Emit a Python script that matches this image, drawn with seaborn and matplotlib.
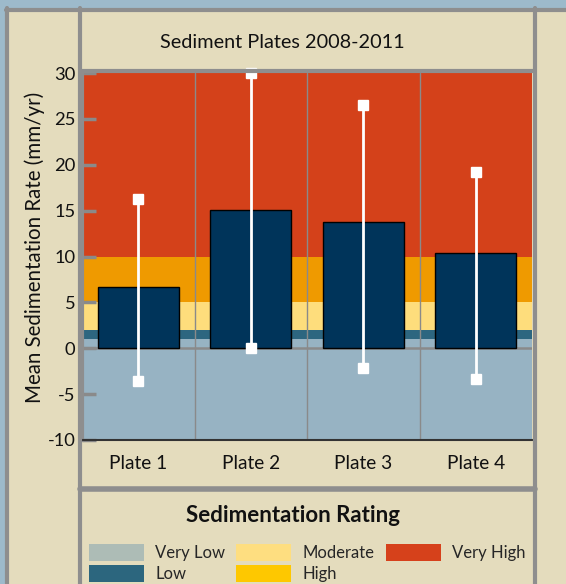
import matplotlib.pyplot as plt
import seaborn as sns
from matplotlib.patches import Rectangle, Patch
from matplotlib.lines import Line2D

# data
plates = ["Plate 1", "Plate 2", "Plate 3", "Plate 4"]
mean_rate = [6.7, 15.1, 13.8, 10.4]
err_low = [-3.6, 0.0, -2.2, -3.4]
err_high = [16.3, 30.0, 26.5, 19.2]

# rating bands drawn behind the bars
band_lo = [-10, 1, 2, 5, 10]
band_hi = [1, 2, 5, 10, 30]
band_colors = ["#97b3c3", "#2d6680", "#fedd7c", "#ef9a00", "#d4411a"]

# legend
rating_names = ["Very Low", "Low", "Moderate", "High", "Very High"]
rating_colors = ["#adbcb6", "#2c667e", "#fede80", "#fec800", "#d6411b"]

W, H = 566, 584
BEIGE = "#e4dcbd"
GRAY = "#8e8e8e"

sns.set_theme(style="white")
plt.rcParams["font.family"] = ["Lato", "DejaVu Sans"]
plt.rcParams["axes.unicode_minus"] = False


def fx(x):
    return x / W


def fy(y):
    return 1 - y / H


fig = plt.figure(figsize=(W / 100, H / 100), dpi=100)
fig.patch.set_facecolor("#9dbacb")

# panels
fig.add_artist(Rectangle((fx(6), 0), 1, fy(9), facecolor=BEIGE,
                         edgecolor="none", transform=fig.transFigure, zorder=0))
for x in [6.5, 80, 535]:
    fig.add_artist(Line2D([fx(x), fx(x)], [fy(8), 0], color=GRAY, lw=3, transform=fig.transFigure, zorder=0.5))
fig.add_artist(Line2D([fx(6), 1], [fy(9.5), fy(9.5)], color=GRAY, lw=3, transform=fig.transFigure, zorder=0.5))
fig.add_artist(Line2D([fx(80), fx(535)], [fy(71), fy(71)], color=GRAY, lw=3, transform=fig.transFigure, zorder=0.5))
fig.add_artist(Line2D([fx(80), fx(535)], [fy(489), fy(489)], color=GRAY, lw=4, transform=fig.transFigure, zorder=0.5))

fig.text(fx(282), fy(43), "Sediment Plates 2008-2011", ha="center", va="center", fontsize=14.3, color="#111111")

ax = fig.add_axes([fx(82), fy(440), 450 / W, 367 / H])

for lo, hi, c in zip(band_lo, band_hi, band_colors):
    ax.axhspan(lo, hi, color=c, zorder=0, lw=0)

for x in [0.5, 1.5, 2.5]:
    ax.axvline(x, color="#8a8a8a", lw=1, zorder=0.5)
ax.axhline(0, color="#8a8a8a", lw=1.8, zorder=0.5)

sns.barplot(x=plates, y=mean_rate, color="#00345a", saturation=1, edgecolor="black",
            linewidth=1, width=0.72, errorbar=None, ax=ax, zorder=2)

ax.vlines(range(len(plates)), err_low, err_high, color="white", lw=2, zorder=3)
ax.plot(range(len(plates)), err_low, "s", color="white", ms=7, zorder=3)
ax.plot(range(len(plates)), err_high, "s", color="white", ms=7, zorder=3, clip_on=False)

ax.set_xlim(-0.5, 3.5)
ax.set_ylim(-10, 30)
ax.set_yticks(range(-10, 31, 5))
ax.tick_params(axis="y", direction="in", length=10, width=2.5, color="#8a8a8a",
               labelsize=13.2, pad=-4, labelcolor="#111111", left=True)
ax.tick_params(axis="x", length=0, labelsize=13.8, pad=11, labelcolor="#111111")
for lab in ax.get_yticklabels():
    lab.set_x(-0.027)
ax.set_ylabel("Mean Sedimentation Rate (mm/yr)", fontsize=14.8, color="#111111")
ax.yaxis.label.set_va("center")
ax.yaxis.set_label_coords(-0.105, 0.526)
ax.set_xlabel("")
for s in ["top", "right"]:
    ax.spines[s].set_visible(False)
ax.spines["left"].set_color(GRAY)
ax.spines["left"].set_linewidth(3)
ax.spines["bottom"].set_color("#333333")
ax.spines["bottom"].set_linewidth(1.5)

# legend panel
fig.text(fx(293), fy(516), "Sedimentation Rating", ha="center", va="center",
         fontsize=16, fontweight="bold", color="#111111")
handles = [Patch(facecolor=c, edgecolor="none") for c in rating_colors]
fig.legend(handles, rating_names, ncol=3, loc="upper left", bbox_to_anchor=(fx(77), fy(532)),
           frameon=False, fontsize=12, handlelength=3.3, handleheight=1.25,
           columnspacing=0.65, handletextpad=0.7, labelspacing=0.2, borderpad=0.2)

fig.savefig("out.png", dpi=100, facecolor=fig.get_facecolor())
